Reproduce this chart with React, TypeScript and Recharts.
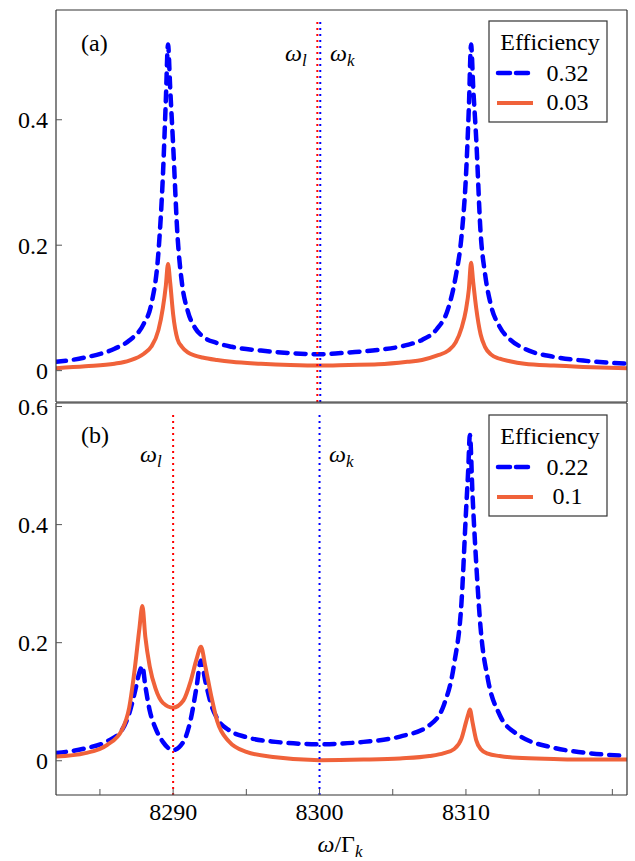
import { LineChart, Line, XAxis, YAxis, ReferenceLine } from 'recharts';

// panel (a)
const omegaA = [8282, 8284, 8286, 8287, 8288, 8288.5, 8289, 8289.3, 8289.5, 8289.65, 8289.8, 8290, 8290.3, 8290.6, 8291, 8291.5, 8292, 8293, 8294, 8296, 8298, 8300, 8302, 8304, 8306, 8307, 8308, 8308.8, 8309.3, 8309.7, 8310, 8310.2, 8310.35, 8310.5, 8310.7, 8311, 8311.3, 8311.7, 8312.3, 8313, 8314, 8316, 8318, 8321];
const effA32 = [0.014, 0.021, 0.035, 0.048, 0.075, 0.105, 0.19, 0.31, 0.43, 0.52, 0.45, 0.36, 0.215, 0.14, 0.095, 0.068, 0.055, 0.044, 0.038, 0.032, 0.028, 0.026, 0.029, 0.033, 0.041, 0.049, 0.066, 0.1, 0.15, 0.215, 0.31, 0.42, 0.52, 0.45, 0.37, 0.22, 0.155, 0.105, 0.07, 0.05, 0.035, 0.022, 0.016, 0.011];
const effA03 = [0.004, 0.007, 0.011, 0.016, 0.027, 0.038, 0.065, 0.1, 0.135, 0.17, 0.14, 0.09, 0.05, 0.038, 0.029, 0.024, 0.021, 0.017, 0.014, 0.011, 0.009, 0.008, 0.009, 0.01, 0.014, 0.017, 0.024, 0.032, 0.045, 0.068, 0.097, 0.13, 0.172, 0.14, 0.1, 0.058, 0.038, 0.026, 0.019, 0.015, 0.011, 0.008, 0.006, 0.004];

// panel (b)
const omegaB = [8282, 8284, 8285.5, 8286.5, 8287, 8287.4, 8287.7, 8287.9, 8288.1, 8288.4, 8288.8, 8289.3, 8290, 8290.7, 8291.2, 8291.6, 8291.9, 8292.2, 8292.6, 8293, 8293.8, 8295, 8297, 8300, 8303, 8305.5, 8307.5, 8308.5, 8309.2, 8309.7, 8310, 8310.15, 8310.27, 8310.45, 8310.7, 8311, 8311.5, 8312.3, 8313.5, 8316, 8318, 8321];
const effB22 = [0.013, 0.021, 0.033, 0.052, 0.08, 0.118, 0.15, 0.16, 0.127, 0.085, 0.055, 0.032, 0.018, 0.032, 0.07, 0.125, 0.17, 0.135, 0.095, 0.072, 0.052, 0.04, 0.032, 0.028, 0.032, 0.041, 0.06, 0.095, 0.165, 0.27, 0.42, 0.49, 0.552, 0.45, 0.335, 0.225, 0.138, 0.078, 0.045, 0.022, 0.014, 0.008];
const effB10 = [0.007, 0.013, 0.027, 0.052, 0.09, 0.16, 0.225, 0.262, 0.21, 0.16, 0.122, 0.098, 0.09, 0.102, 0.135, 0.172, 0.193, 0.16, 0.11, 0.068, 0.033, 0.015, 0.006, 0.001, 0.002, 0.004, 0.008, 0.013, 0.02, 0.038, 0.065, 0.078, 0.087, 0.065, 0.035, 0.02, 0.012, 0.008, 0.005, 0.003, 0.002, 0.002];

const xTicks = [8285, 8290, 8295, 8300, 8305, 8310, 8315, 8320];
const xLabels = [8290, 8300, 8310];
const yTicksA = [0, 0.2, 0.4];
const yTicksB = [0, 0.2, 0.4, 0.6];
const omegaL = [8299.85, 8290];
const omegaK = [8300.05, 8300];
const legendA = ['0.32', '0.03'];
const legendB = ['0.22', '0.1'];

const BLUE = '#0000ff';
const ORANGE = '#f0623a';
const FONT = "'Liberation Serif', 'DejaVu Serif', serif";
const X_DOMAIN = [8282, 8321];

const rows = (xs: number[], ys: number[]) => xs.map((x, i) => ({ x, y: ys[i] }));

const serif = { fontFamily: FONT, fontSize: 24 };
const tickFont = { fill: '#000', fontSize: 24, style: { fontFamily: FONT } };
const frame = { stroke: '#333', strokeWidth: 1.2 };
const tickLine = { stroke: '#555', strokeWidth: 1 };

function Panel({ top, height, bottomAxis, xs, blue, orange, yDomain, yTicks, wl, wk, lineTop, labels }: any) {
  return (
    <div style={{ position: 'absolute', left: 0, top }}>
      <LineChart width={635} height={height} margin={{ top: 9, right: 7, bottom: labels ? 0 : 1, left: 0 }}
        style={{ fontFamily: FONT }}>
        <XAxis xAxisId="top" orientation="top" type="number" domain={X_DOMAIN} allowDataOverflow ticks={xTicks}
          height={1} tick={false} tickSize={-6} axisLine={frame} tickLine={tickLine} />
        <XAxis dataKey="x" type="number" domain={X_DOMAIN} allowDataOverflow ticks={xTicks}
          height={bottomAxis} tickSize={-6} tickMargin={14} axisLine={frame} tickLine={tickLine}
          tick={labels ? tickFont : false}
          tickFormatter={(v: number) => (xLabels.includes(v) ? String(v) : '')} />
        <YAxis type="number" domain={yDomain} allowDataOverflow ticks={yTicks} width={56}
          tickSize={-6} tickMargin={14} axisLine={frame} tickLine={tickLine} tick={tickFont}
          tickFormatter={(v: number) => String(v)} />
        <YAxis yAxisId="right" orientation="right" type="number" domain={yDomain} allowDataOverflow ticks={yTicks}
          width={1} tick={false} tickSize={-6} axisLine={frame} tickLine={tickLine} />
        <Line data={rows(xs, blue)} dataKey="y" type="monotone" stroke={BLUE} strokeWidth={4.5}
          strokeDasharray="10 8" strokeLinecap="round" dot={false} isAnimationActive={false} />
        <Line data={rows(xs, orange)} dataKey="y" type="monotone" stroke={ORANGE} strokeWidth={4}
          dot={false} isAnimationActive={false} />
        <ReferenceLine segment={[{ x: wl, y: yDomain[0] }, { x: wl, y: lineTop }]} stroke="#ff0000"
          strokeWidth={2} strokeDasharray="2 4" />
        <ReferenceLine segment={[{ x: wk, y: yDomain[0] }, { x: wk, y: lineTop }]} stroke={BLUE}
          strokeWidth={2} strokeDasharray="2 4" />
      </LineChart>
    </div>
  );
}

function Omega({ x, y, sub }: { x: number; y: number; sub: string }) {
  return (
    <text x={x} y={y} style={{ ...serif, fontStyle: 'italic' }}>
      ω<tspan style={{ fontSize: 17 }} dy={5}>{sub}</tspan>
    </text>
  );
}

function LegendBox({ top, items }: { top: number; items: string[] }) {
  return (
    <g transform={`translate(0, ${top})`}>
      <rect x={489} y={0} width={118} height={101} fill="#fff" stroke="#333" strokeWidth={1.2} />
      <text x={550} y={29} textAnchor="middle" style={serif}>Efficiency</text>
      <line x1={498} x2={532} y1={52} y2={52} stroke={BLUE} strokeWidth={4.5} strokeDasharray="12 6" strokeLinecap="round" />
      <text x={567.5} y={60} textAnchor="middle" style={serif}>{items[0]}</text>
      <line x1={497} x2={533} y1={82} y2={82} stroke={ORANGE} strokeWidth={4} />
      <text x={567.5} y={89} textAnchor="middle" style={serif}>{items[1]}</text>
    </g>
  );
}

export default function App() {
  return (
    <div style={{ position: 'absolute', left: 0, top: 0, width: 635, height: 861, background: '#fff', fontFamily: FONT }}>
      <Panel top={0} height={404} bottomAxis={1} xs={omegaA} blue={effA32} orange={effA03}
        yDomain={[-0.05, 0.575]} yTicks={yTicksA} wl={omegaL[0]} wk={omegaK[0]} lineTop={0.56} labels={false} />
      <Panel top={393} height={468} bottomAxis={66} xs={omegaB} blue={effB22} orange={effB10}
        yDomain={[-0.058, 0.606]} yTicks={yTicksB} wl={omegaL[1]} wk={omegaK[1]} lineTop={0.59} labels />
      <svg width={635} height={861} style={{ position: 'absolute', left: 0, top: 0, pointerEvents: 'none' }}>
        <text x={81} y={51} style={serif}>(a)</text>
        <text x={81} y={443} style={serif}>(b)</text>
        <Omega x={285} y={61} sub="l" />
        <Omega x={330} y={61} sub="k" />
        <Omega x={140} y={462} sub="l" />
        <Omega x={329} y={462} sub="k" />
        <LegendBox top={21} items={legendA} />
        <LegendBox top={415} items={legendB} />
        <text x={340} y={852} textAnchor="middle" style={serif}>
          <tspan style={{ fontStyle: 'italic' }}>ω</tspan>/Γ<tspan style={{ fontSize: 17, fontStyle: 'italic' }} dy={5}>k</tspan>
        </text>
      </svg>
    </div>
  );
}
